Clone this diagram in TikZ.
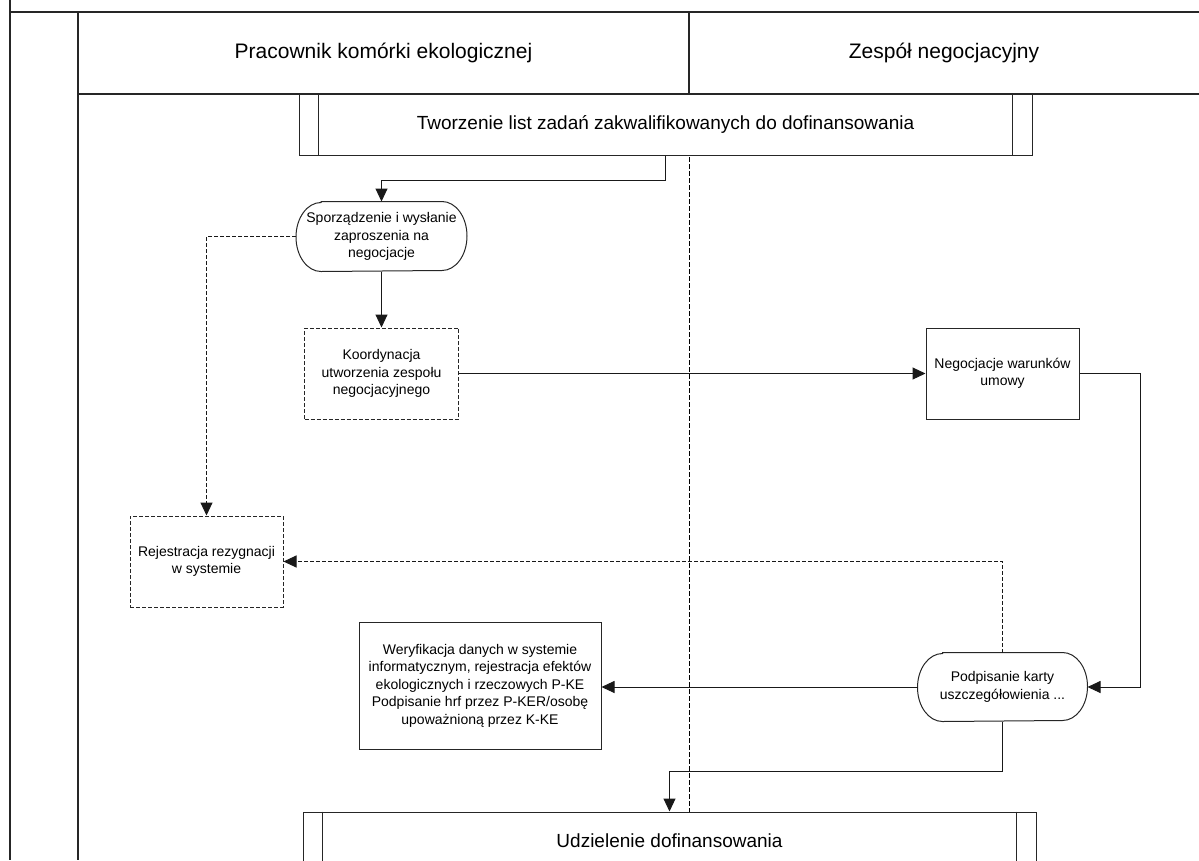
\documentclass[tikz,border=0pt]{standalone}
\usepackage{fontspec}
\setmainfont{Liberation Sans}
\usetikzlibrary{arrows.meta,calc}
\begin{document}
\begin{tikzpicture}[x=1pt,y=1pt,line width=1pt,
  pool/.style={line width=1.1pt,draw=black!85},
  lanedash/.style={line width=0.9pt,dash pattern=on 5pt off 2pt},
  small/.style={font=\fontsize{14}{17.5}\selectfont,align=center,inner sep=0pt},
  head/.style={font=\fontsize{21}{25}\selectfont,inner sep=0pt},
  procbox/.style={draw=black!85,fill=white,inner sep=0pt,
    font=\fontsize{19}{23}\selectfont,minimum width=733pt,minimum height=61pt},
  taskbox/.style={draw=black!85,small},
  optbox/.style={draw=black!85,small,dash pattern=on 4pt off 2pt},
  termbox/.style={small,minimum width=#1},
  arr/.style={draw=black!90,-{Triangle[length=13pt,width=12pt]}},
  darr/.style={arr,dash pattern=on 4pt off 2pt}]
\useasboundingbox (0,0) rectangle (1199,-860);

% pool frame and lanes
\draw[pool] (10,0) -- (10,-860);
\draw[pool] (10,-12) -- (1199,-12);
\draw[pool] (78,-12) -- (78,-860);
\draw[pool] (78,-94) -- (1199,-94);
\draw[pool] (689,-12) -- (689,-94);
\draw[lanedash] (689,-94) -- (689,-860);

% lane headers
\node[head] (laneA) at (383.5,-53) {Pracownik komórki ekologicznej};
\node[head] (laneB) at (944,-53) {Zespół negocjacyjny};

% sub-processes
\node[procbox] (top) at (665.5,-124.5) {Tworzenie list zadań zakwalifikowanych do dofinansowania};
\node[procbox] (udz) at (669.5,-842.5) {\raisebox{3pt}{Udzielenie dofinansowania}};
\foreach \p in {top,udz} {
  \draw[draw=black!85] ($(\p.north west)+(20,0)$) -- ($(\p.south west)+(20,0)$);
  \draw[draw=black!85] ($(\p.north east)+(-20,0)$) -- ($(\p.south east)+(-20,0)$);
}

% tasks
\node[termbox=170pt,minimum height=69pt] (sporz) at (381.5,-236.5)
  {Sporządzenie i wysłanie\\zaproszenia na\\negocjacje};
\node[optbox,minimum width=154pt,minimum height=91pt] (koord) at (381.5,-373.5)
  {Koordynacja\\utworzenia zespołu\\negocjacyjnego};
\node[taskbox,minimum width=153pt,minimum height=91pt] (negoc) at (1002.5,-373.5)
  {Negocjacje warunków\\umowy};
\node[optbox,minimum width=153pt,minimum height=91pt] (rejes) at (206.5,-561.5)
  {Rejestracja rezygnacji\\w systemie};
\node[taskbox,minimum width=242pt,minimum height=127pt] (weryf) at (480,-685.5)
  {Weryfikacja danych w systemie\\informatycznym, rejestracja efektów\\ekologicznych i rzeczowych P-KE\\Podpisanie hrf przez P-KER/osobę\\upoważnioną przez K-KE};
\node[termbox=169pt,minimum height=68pt] (podp) at (1002.5,-687)
  {Podpisanie karty\\uszczegółowienia ...};

% terminator outlines
\foreach \t/\ry in {sporz/34.5pt,podp/34pt} {
  \draw[draw=black!85]
    ($(\t.north west)+(25,0)$) -- ($(\t.north east)+(-25,0)$)
    arc[start angle=90,end angle=-90,x radius=25pt,y radius=\ry]
    -- ($(\t.south west)+(25,0)$)
    arc[start angle=270,end angle=90,x radius=25pt,y radius=\ry] -- cycle;
}

% flow
\draw[arr] (top.south) -- ++(0,-25) -| (sporz.north);
\draw[arr] (sporz.south) -- (koord.north);
\draw[arr] (koord.east) -- (negoc.west);
\coordinate (nbend) at (1140,-373.5);
\draw[arr] (negoc.east) -- (nbend) |- (podp.east);
\draw[arr] (podp.west) -- (podp.west -| weryf.east);
\draw[darr] (sporz.west) -| (rejes.north);
\draw[darr] (podp.north) |- (rejes.east);
\draw[arr] (podp.south) -- ++(0,-50) -| (udz.north);
\end{tikzpicture}
\end{document}
